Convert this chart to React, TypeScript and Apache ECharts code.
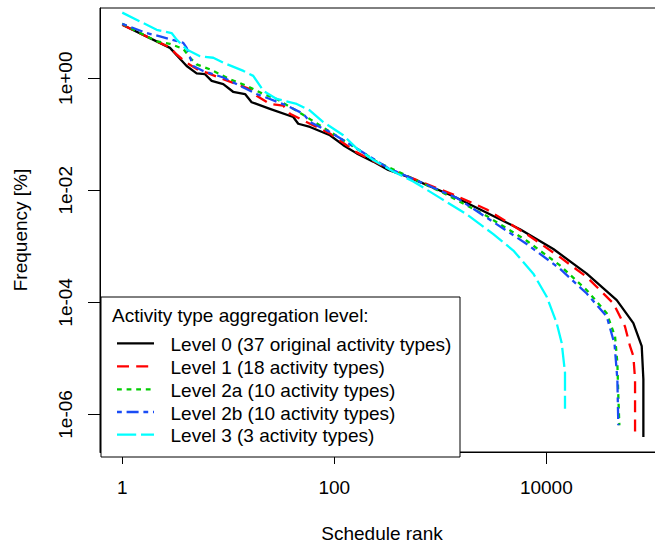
import React, { useEffect, useRef } from "react";
import * as echarts from "echarts";

const FONT = "'Liberation Sans', Arial, sans-serif";

const seriesNames = [
  "Level 0 (37 original activity types)",
  "Level 1 (18 activity types)",
  "Level 2a (10 activity types)",
  "Level 2b (10 activity types)",
  "Level 3 (3 activity types)",
];
const legendTitle = "Activity type aggregation level:";
const xTicks = [1, 100, 10000];
const yTicks = [1, 0.01, 0.0001, 0.000001];

const level0Rank = [1, 2.82, 4.05, 5.03, 6.03, 6.97, 8.97, 11.1, 14.4, 16.6, 24.7, 41.0, 45.7, 59.0, 91.0, 121.6, 162.6, 233, 323, 482, 1327, 2742, 5645, 11640, 24050, 46150, 66200, 79400, 82300, 82300];
const level0Freq = [8.97, 3.48, 1.65, 1.22, 1.18, 0.896, 0.784, 0.573, 0.522, 0.373, 0.284, 0.203, 0.154, 0.135, 0.0959, 0.0639, 0.0456, 0.0325, 0.0231, 0.0177, 0.00785, 0.00398, 0.00202, 0.000897, 0.000325, 0.00011, 4.26e-5, 1.65e-5, 4.27e-6, 3.98e-7];

const level1Rank = [1, 2.82, 3.26, 4.05, 5.41, 6.25, 8.97, 12.0, 16.0, 18.5, 24.7, 33.0, 38.2, 59.0, 91.0, 162.6, 323, 1327, 2742, 6530, 13460, 24050, 42860, 55200, 61600, 66200, 68700, 68700];
const level1Freq = [8.97, 3.52, 2.65, 1.89, 1.35, 1.26, 0.96, 0.784, 0.64, 0.487, 0.348, 0.325, 0.232, 0.154, 0.103, 0.0475, 0.0243, 0.00838, 0.00455, 0.00165, 0.00064, 0.000284, 9.6e-5, 3.72e-5, 1.65e-5, 1.1e-5, 4.27e-6, 4.27e-7];

const level2aRank = [1, 2.11, 2.82, 3.76, 4.35, 5.03, 6.72, 10.4, 14.9, 21.4, 28.6, 41.0, 54.9, 73.3, 121.6, 162.6, 251, 1149, 2742, 6530, 13460, 24050, 37150, 44460, 46770, 47760, 48860];
const level2aFreq = [9.34, 4.55, 4.1, 3.34, 2.32, 1.77, 1.44, 0.96, 0.732, 0.522, 0.426, 0.284, 0.203, 0.144, 0.0783, 0.0559, 0.0325, 0.00838, 0.00348, 0.00126, 0.000457, 0.000165, 6.4e-5, 2.48e-5, 8.4e-6, 2.17e-6, 6.4e-7];

const level2bRank = [1, 1.7, 2.27, 3.76, 4.05, 4.67, 5.81, 8.97, 13.9, 18.5, 24.7, 35.6, 51, 59, 91, 162.6, 323, 1429, 2742, 6530, 13460, 24050, 37150, 44000, 46770, 47760];
const level2bFreq = [9.34, 6.4, 5.57, 4.27, 3.48, 1.65, 1.35, 1.03, 0.685, 0.522, 0.426, 0.325, 0.232, 0.165, 0.11, 0.0559, 0.0248, 0.00733, 0.00325, 0.0011, 0.000398, 0.000144, 5.6e-5, 1.8e-5, 4.27e-6, 6.4e-7];

const level3Rank = [1, 1.47, 2.11, 2.92, 3.26, 4.05, 5.41, 7.22, 8.97, 13.9, 17.2, 21.4, 28.6, 44.2, 59, 78.7, 121.6, 162.6, 233, 360, 556, 993, 1774, 3162, 4886, 7540, 10090, 12530, 13960, 15000, 15000];
const level3Freq = [14.8, 10.3, 7.32, 6.4, 4.88, 3.25, 2.47, 2.32, 1.89, 1.35, 1.1, 0.597, 0.426, 0.348, 0.265, 0.165, 0.0959, 0.0559, 0.0347, 0.0217, 0.0144, 0.00733, 0.00372, 0.00165, 0.00084, 0.000325, 0.000126, 4.26e-5, 1.89e-5, 5.58e-6, 1.26e-6];

const ranks = [level0Rank, level1Rank, level2aRank, level2bRank, level3Rank];
const freqs = [level0Freq, level1Freq, level2aFreq, level2bFreq, level3Freq];
const colors = ["#000000", "#FF0000", "#00CD00", "#1A4CF5", "#00FFFF"];
const dashes: (number[] | null)[] = [null, [12, 7.2], [4.8, 4.8], [4.8, 4.8, 12, 4.8], [19.2, 4.8]];

export default function App() {
  const ref = useRef<HTMLDivElement>(null);
  useEffect(() => {
    if (!ref.current) return;
    const chart = echarts.init(ref.current, undefined, { renderer: "svg" });
    const series = seriesNames.map((name, i) => ({
      name,
      type: "line",
      data: ranks[i].map((r, j) => [r, freqs[i][j]]),
      showSymbol: false,
      symbol: "none",
      lineStyle: {
        color: colors[i],
        width: 2.3,
        type: dashes[i] ? dashes[i] : "solid",
        cap: "butt",
        join: "round",
      },
      z: 2 + i,
    }));

    const legendLineY = [343.3, 366.3, 389.3, 412, 434.7];
    const legendTextY = [344.5, 367.2, 390, 413, 435.7];
    const graphic: any[] = [
      {
        type: "rect",
        shape: { x: 101, y: 297, width: 359, height: 160 },
        style: { fill: "#fff", stroke: "#000", lineWidth: 1 },
        z: 100,
      },
      {
        type: "text",
        x: 112,
        y: 315,
        style: { text: legendTitle, fontSize: 19, fontFamily: FONT, fill: "#000", verticalAlign: "middle" },
        z: 101,
      },
    ];
    seriesNames.forEach((name, i) => {
      graphic.push({
        type: "line",
        shape: { x1: 117, y1: legendLineY[i], x2: 154, y2: legendLineY[i] },
        style: { stroke: colors[i], lineWidth: 2.3, lineDash: dashes[i] || null },
        z: 101,
      });
      graphic.push({
        type: "text",
        x: 170.5,
        y: legendTextY[i],
        style: { text: name, fontSize: 19, fontFamily: FONT, fill: "#000", verticalAlign: "middle" },
        z: 101,
      });
    });

    chart.setOption({
      animation: false,
      backgroundColor: "#fff",
      grid: { left: 100, top: 8, width: 564, height: 449, show: true, borderColor: "#000", borderWidth: 1, containLabel: false },
      xAxis: {
        type: "log",
        logBase: 10,
        min: Math.pow(10, -0.21),
        max: Math.pow(10, 5.11),
        name: "Schedule rank",
        nameLocation: "middle",
        nameGap: 72,
        nameTextStyle: { fontSize: 19, fontFamily: FONT, color: "#000" },
        axisLine: { show: true, lineStyle: { color: "#000", width: 1 } },
        axisTick: { show: true, length: 12, inside: false, customValues: xTicks, lineStyle: { color: "#000", width: 1 } },
        axisLabel: {
          customValues: xTicks,
          fontSize: 19,
          fontFamily: FONT,
          color: "#000",
          margin: 26,
          formatter: (v: number) => String(Math.round(v)),
        },
        splitLine: { show: false },
      },
      yAxis: {
        type: "log",
        logBase: 10,
        min: Math.pow(10, -6.67),
        max: Math.pow(10, 1.253),
        name: "Frequency [%]",
        nameLocation: "middle",
        nameGap: 70,
        nameRotate: 90,
        nameTextStyle: { fontSize: 19, fontFamily: FONT, color: "#000" },
        axisLine: { show: true, lineStyle: { color: "#000", width: 1 } },
        axisTick: { show: true, length: 12, inside: false, customValues: yTicks, lineStyle: { color: "#000", width: 1 } },
        axisLabel: {
          customValues: yTicks,
          rotate: 90,
          fontSize: 19,
          fontFamily: FONT,
          color: "#000",
          margin: 25,
          formatter: (v: number) => {
            const e = Math.round(Math.log10(v));
            const s = String(Math.abs(e)).padStart(2, "0");
            return "1e" + (e < 0 ? "-" : "+") + s;
          },
        },
        splitLine: { show: false },
      },
      series,
      graphic,
    } as any);
    return () => chart.dispose();
  }, []);
  return (
    <div style={{ position: "absolute", left: 0, top: 0, width: 655, height: 548, overflow: "hidden", background: "#fff" }}>
      <div ref={ref} style={{ position: "absolute", left: 0, top: 0, width: 680, height: 548 }} />
    </div>
  );
}
